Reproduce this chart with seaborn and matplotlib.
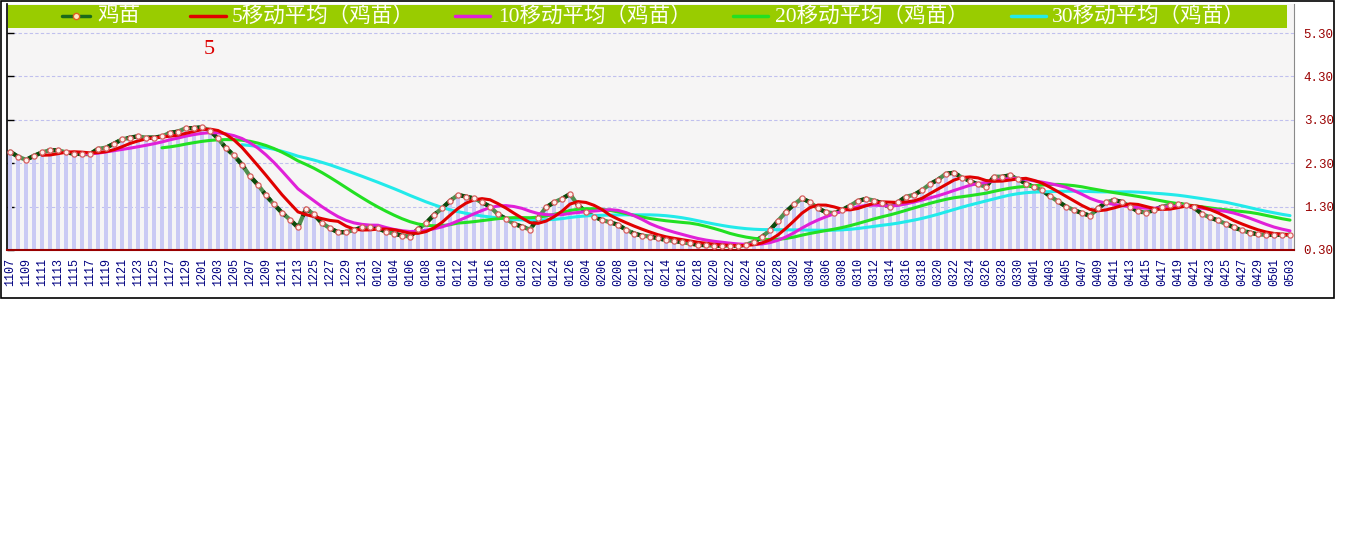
import numpy as np
import pandas as pd
import matplotlib
matplotlib.use("Agg")
import matplotlib.pyplot as plt
import seaborn as sns
from matplotlib.lines import Line2D
from matplotlib.patches import Rectangle

sns.set_style("white")
plt.rcParams["font.family"] = ["Liberation Serif", "Noto Sans CJK SC", "DejaVu Sans"]

# ---------------- data ----------------
dates = ([f"11{d:02d}" for d in range(7, 31)] +
         [f"12{d:02d}" for d in range(1, 14)] + ["1224"] +
         [f"12{d:02d}" for d in range(25, 32)] +
         [f"01{d:02d}" for d in range(1, 27)] + ["0127"] +
         [f"02{d:02d}" for d in range(4, 29)] +
         [f"03{d:02d}" for d in range(1, 32)] +
         [f"04{d:02d}" for d in range(1, 31)] +
         [f"05{d:02d}" for d in range(1, 4)])

values = [2.57, 2.45, 2.38, 2.47, 2.55, 2.60, 2.60, 2.55, 2.52, 2.51,
          2.51, 2.63, 2.66, 2.75, 2.85, 2.89, 2.92, 2.89, 2.89, 2.92,
          3.00, 3.03, 3.11, 3.11, 3.13, 3.05, 2.87, 2.65, 2.48, 2.27,
          2.00, 1.80, 1.56, 1.35, 1.16, 1.00, 0.82, 1.25, 1.12, 0.92,
          0.80, 0.71, 0.71, 0.76, 0.82, 0.82, 0.80, 0.72, 0.68, 0.63,
          0.61, 0.78, 0.92, 1.11, 1.26, 1.43, 1.57, 1.53, 1.49, 1.40,
          1.30, 1.12, 1.02, 0.90, 0.84, 0.77, 1.04, 1.28, 1.40, 1.48,
          1.59, 1.33, 1.18, 1.07, 0.99, 0.94, 0.88, 0.77, 0.68, 0.63,
          0.61, 0.57, 0.53, 0.51, 0.48, 0.45, 0.42, 0.41, 0.40, 0.40,
          0.40, 0.40, 0.42, 0.49, 0.60, 0.76, 0.97, 1.18, 1.35, 1.49,
          1.40, 1.26, 1.17, 1.15, 1.22, 1.32, 1.43, 1.48, 1.44, 1.38,
          1.28, 1.40, 1.53, 1.57, 1.68, 1.82, 1.92, 2.06, 2.08, 1.97,
          1.89, 1.81, 1.76, 1.99, 1.99, 2.02, 1.93, 1.83, 1.75, 1.68,
          1.54, 1.42, 1.30, 1.22, 1.15, 1.09, 1.26, 1.40, 1.45, 1.41,
          1.30, 1.19, 1.16, 1.22, 1.30, 1.34, 1.36, 1.34, 1.28, 1.13,
          1.05, 0.98, 0.90, 0.82, 0.75, 0.70, 0.66, 0.65, 0.65, 0.65,
          0.65]

ma_windows = [5, 10, 20, 30]
ma_colors = ["#e00000", "#e020d8", "#22e022", "#22eaea"]
legend_labels = ["鸡苗", "5移动平均（鸡苗）", "10移动平均（鸡苗）",
                 "20移动平均（鸡苗）", "30移动平均（鸡苗）"]
ytick_vals = [0.30, 1.30, 2.30, 3.30, 4.30, 5.30]
annotation = "5"

# ---------------- figure ----------------
W, H = 1345, 541
fig = plt.figure(figsize=(W / 100, H / 100), dpi=100)
fig.patch.set_facecolor("white")
ax = fig.add_axes([7 / W, (H - 250) / H, (1294 - 7) / W, 246 / H])
ax.set_facecolor("#f6f5f5")

x = np.arange(len(values))
df = pd.DataFrame({"x": x, "v": values})

sns.barplot(data=df, x="x", y="v", native_scale=True, width=0.42,
            color="#cacaf4", saturation=1, linewidth=0, ax=ax, zorder=1)

# main series line
sns.lineplot(data=df, x="x", y="v", color="#4f8f4f", lw=3.0, ax=ax,
             estimator=None, errorbar=None, zorder=3)
sns.lineplot(data=df, x="x", y="v", color="#0c4a0c", lw=3.0, ax=ax,
             estimator=None, errorbar=None, zorder=3, dashes=False)
ax.lines[-1].set_linestyle((0, (3, 2)))

# moving averages
for n, c in zip(ma_windows[::-1], ma_colors[::-1]):
    ma = df["v"].rolling(n).mean()
    d = pd.DataFrame({"x": x, "m": ma}).dropna()
    sns.lineplot(data=d, x="x", y="m", color=c, lw=2.2, ax=ax,
                 estimator=None, errorbar=None, zorder=4)

sns.scatterplot(data=df, x="x", y="v", marker="o", s=14, color="#fff0ec",
                edgecolor="#d86060", linewidth=0.9, ax=ax, zorder=5)

ax.set_xlim(-0.375, 160.5)
ax.set_ylim(0.30, 5.97)
ax.set_xlabel("")
ax.set_ylabel("")

# y axis: ticks left, labels right
ax.set_yticks(ytick_vals)
ax.set_yticklabels([f"{v:.2f}" for v in ytick_vals], family="Liberation Mono")
ax.tick_params(axis="y", which="major", left=True, right=False,
               labelleft=False, labelright=True, direction="in", length=5,
               width=1, color="black", labelcolor="#990000", labelsize=9,
               pad=7)

# x axis
ax.set_xticks(x[::2])
ax.set_xticklabels(dates[::2], rotation=90, family="Liberation Mono")
ax.tick_params(axis="x", which="major", length=0, pad=6, labelsize=8.5,
               labelcolor="#000080")
ax.set_xticks(np.arange(-0.3, 161, 2), minor=True)
ax.tick_params(axis="x", which="minor", direction="in", length=5,
               width=1, color="#cc0000")

ax.grid(False)
ax.yaxis.grid(True, color="#c0c0ee", linestyle=(0, (3, 2)), lw=0.8)
ax.set_axisbelow(True)

ax.spines["top"].set_visible(False)
ax.spines["left"].set_color("black")
ax.spines["left"].set_linewidth(1.2)
ax.spines["right"].set_color("#8a8a8a")
ax.spines["bottom"].set_color("#990000")
ax.spines["bottom"].set_linewidth(1.5)

# outer frame
fig.add_artist(Rectangle((0.5 / W, (H - 298) / H), 1333.5 / W, 297.0 / H,
                         transform=fig.transFigure, fill=False,
                         ec="black", lw=1.2))

# legend bar
fig.add_artist(Rectangle((8 / W, (H - 27.5) / H), 1279 / W, 23 / H,
                         transform=fig.transFigure, fc="#99cc00", ec="none",
                         zorder=10))
yc = (H - 16) / H
handle_x = [(62, 90), (190, 226), (455, 490), (733, 768), (1011, 1046)]
text_x = [97, 232, 498, 775, 1052]
handle_colors = ["#1a6a1a"] + ma_colors
for i, ((a, b), tx, lab, hc) in enumerate(zip(handle_x, text_x,
                                               legend_labels, handle_colors)):
    fig.add_artist(Line2D([a / W, b / W], [yc, yc], transform=fig.transFigure,
                          color=hc, lw=2.5, zorder=11))
    if i == 0:
        fig.add_artist(Line2D([(a + b) / 2 / W], [yc],
                              transform=fig.transFigure, marker="o", ms=4.5,
                              mfc="#ffe8c0", mec="#e06020", lw=0, zorder=12))
    fig.text(tx / W, yc, lab, color="#fffff4", fontsize=15.5, ha="left",
             va="center", zorder=12,
             family=["Liberation Serif", "Noto Sans CJK SC"])

fig.text(209 / W, (H - 50) / H, annotation, color="#dd0000", fontsize=16,
         ha="center", va="center", family="Liberation Serif")

fig.savefig("out.png", dpi=100, facecolor="white")
